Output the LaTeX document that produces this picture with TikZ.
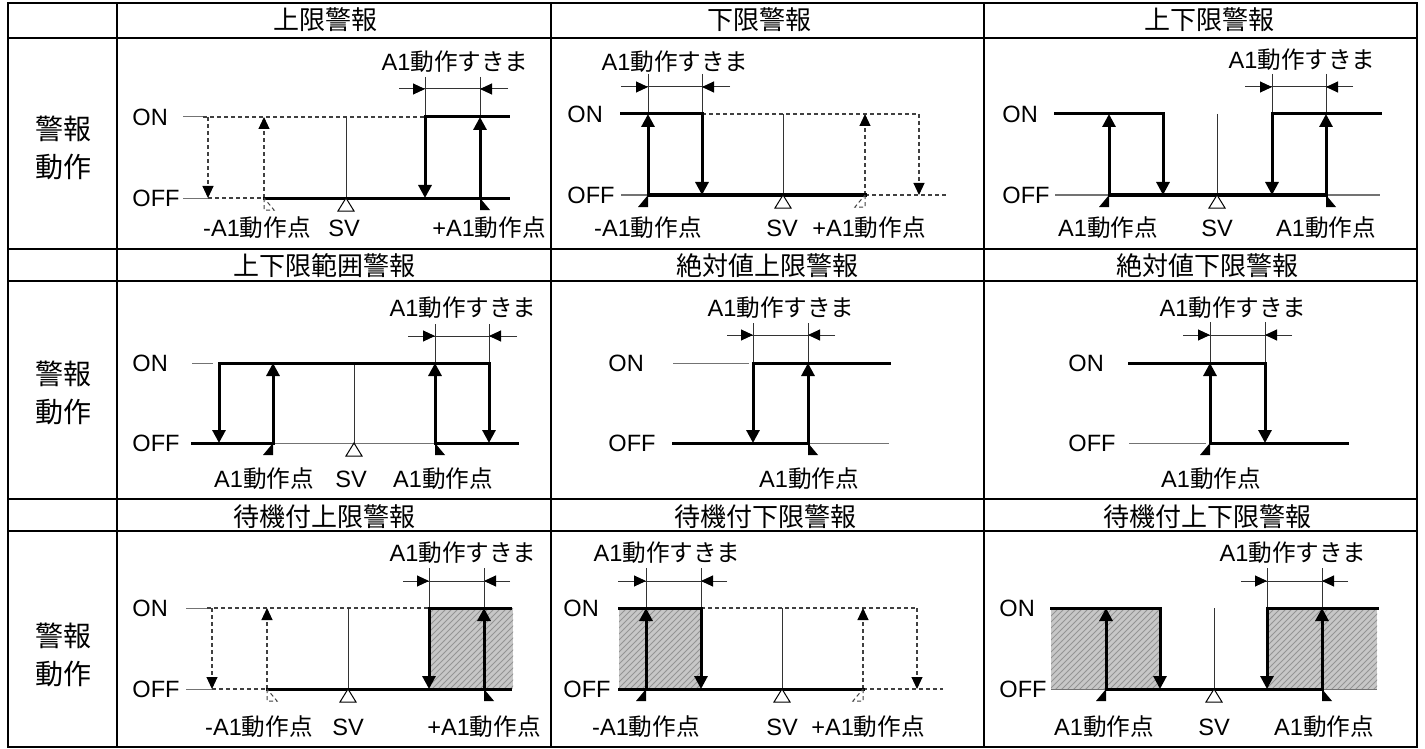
\documentclass[tikz,border=0pt]{standalone}
\usepackage{fontspec}
\setmainfont{Liberation Sans}
\newfontfamily\jp{Noto Sans CJK JP}
\usetikzlibrary{arrows.meta,patterns}
\tikzset{
  grid/.style={line width=1pt, black},
  sig/.style={line width=1.5pt, line cap=rect, black},
  baseln/.style={line width=0.5pt, black!55},
  thinln/.style={line width=0.5pt, black!80},
  dsh/.style={line width=0.55pt, black!75, dash pattern=on 2pt off 1.5pt},
  bigarr/.style={-{Triangle[length=6.5pt,width=6.5pt,color=black]}},
  smarr/.style={-{Triangle[length=6pt,width=5.5pt,color=black]}},
  hatch/.style={fill=black!22, postaction={pattern=north east lines, pattern color=black!42}},
  lab/.style={font=\fontsize{11.8}{13}\selectfont, inner sep=0pt},
  ttl/.style={font=\fontsize{13}{15}\selectfont\jp, inner sep=0pt},
  side/.style={font=\fontsize{14}{19}\selectfont\jp, align=center, inner sep=0pt},
}
\newcommand{\MarkR}[3][fill=black]{\path[#1] (#2,#3) -- (#2,#3+12) -- (#2+10,#3+12) -- cycle;}
\newcommand{\MarkL}[3][fill=black]{\path[#1] (#2,#3) -- (#2,#3+12) -- (#2-10,#3+12) -- cycle;}
\newcommand{\SVtri}[2]{\draw[line width=0.5pt, fill=white] (#1,#2) -- (#1-8,#2+13) -- (#1+8,#2+13) -- cycle;}
\newcommand{\DimGap}[5]{%
  \draw[thinln] (#1,#5) -- (#4,#5);
  \draw[thinln, smarr] (#1,#5) -- (#2,#5);
  \draw[thinln, smarr] (#4,#5) -- (#3,#5);}
\begin{document}
\begin{tikzpicture}[x=0.5pt,y=-0.5pt]
\useasboundingbox (0,0) rectangle (1425,749);
\fill[white] (0,0) rectangle (1425,749);

% ---------- hatched areas ----------
\path[hatch] (429,608) rectangle (513,689);
\path[hatch] (619,608) rectangle (701,689);
\path[hatch] (1051,608) rectangle (1160,689);
\path[hatch] (1267,608) rectangle (1377,689);

% ---------- table grid ----------
\draw[grid] (8,3) rectangle (1417,747);
\draw[grid] (117,3) -- (117,747);
\draw[grid] (551,3) -- (551,747);
\draw[grid] (984,3) -- (984,747);
\foreach \yy in {38,249,281,499,531} \draw[grid] (8,\yy) -- (1417,\yy);

% ---------- headers ----------
\node[ttl] (h1) at (325,20) {上限警報};
\node[ttl] (h2) at (759,20) {下限警報};
\node[ttl] (h3) at (1209,20) {上下限警報};
\node[ttl] (h4) at (324,266) {上下限範囲警報};
\node[ttl] (h5) at (767,266) {絶対値上限警報};
\node[ttl] (h6) at (1207,266) {絶対値下限警報};
\node[ttl] (h7) at (324,517) {待機付上限警報};
\node[ttl] (h8) at (765,517) {待機付下限警報};
\node[ttl] (h9) at (1207,517) {待機付上下限警報};
\node[side] (s1) at (63,148) {警報\\動作};
\node[side] (s2) at (63,393) {警報\\動作};
\node[side] (s3) at (63,655) {警報\\動作};

% ================= Panel 1: 上限警報 =================
\draw[baseln] (183,117) -- (203,117);
\draw[baseln] (183,198) -- (208,198);
\draw[dsh] (203,117) -- (425,117);
\draw[dsh] (208,198) -- (264,198);
\draw[dsh, smarr] (208,117) -- (208,198);
\draw[dsh, smarr] (264,198) -- (264,117);
\draw[thinln] (346,117) -- (346,198);
\draw[thinln] (425,77) -- (425,117);
\draw[thinln] (480,77) -- (480,117);
\DimGap{399}{425}{480}{508}{89}
\draw[sig] (264,198) -- (508,198);
\draw[sig, bigarr] (508,117) -- (425,117) -- (425,198);
\draw[sig, bigarr] (480,198) -- (480,117);
\MarkR[draw, dsh, line width=0.5pt]{264}{198}
\MarkR{480}{198}
\SVtri{346}{198}
\node[lab, anchor=west] (on1) at (132,117) {ON};
\node[lab, anchor=west] (off1) at (132,198) {OFF};
\node[lab] (g1) at (455,62) {A1{\jp 動作すきま}};
\node[lab] (m1) at (257,228) {-A1{\jp 動作点}};
\node[lab] (sv1) at (344,228) {SV};
\node[lab] (p1) at (489,228) {+A1{\jp 動作点}};

% ================= Panel 2: 下限警報 =================
\draw[baseln] (621,195) -- (648,195);
\draw[dsh] (702,114) -- (919,114);
\draw[dsh, smarr] (919,114) -- (919,195);
\draw[dsh] (865,195) -- (947,195);
\draw[dsh, smarr] (865,195) -- (865,114);
\draw[thinln] (783,114) -- (783,195);
\draw[thinln] (648,74) -- (648,114);
\draw[thinln] (702,74) -- (702,114);
\DimGap{621}{648}{702}{730}{87}
\draw[sig] (648,195) -- (865,195);
\draw[sig, bigarr] (621,114) -- (702,114) -- (702,195);
\draw[sig, bigarr] (648,195) -- (648,114);
\MarkL{648}{195}
\MarkL[draw, dsh, line width=0.5pt]{865}{195}
\SVtri{783}{195}
\node[lab, anchor=west] (on2) at (567,114) {ON};
\node[lab, anchor=west] (off2) at (567,195) {OFF};
\node[lab] (g2) at (675,62) {A1{\jp 動作すきま}};
\node[lab] (m2) at (648,228) {-A1{\jp 動作点}};
\node[lab] (sv2) at (782,228) {SV};
\node[lab] (p2) at (869,228) {+A1{\jp 動作点}};

% ================= Panel 3: 上下限警報 =================
\draw[baseln] (1055,195) -- (1109,195);
\draw[baseln] (1326,195) -- (1380,195);
\draw[thinln] (1217,114) -- (1217,195);
\draw[thinln] (1272,74) -- (1272,114);
\draw[thinln] (1326,74) -- (1326,114);
\DimGap{1245}{1272}{1326}{1353}{87}
\draw[sig] (1109,195) -- (1326,195);
\draw[sig, bigarr] (1055,114) -- (1163,114) -- (1163,195);
\draw[sig, bigarr] (1380,114) -- (1272,114) -- (1272,195);
\draw[sig, bigarr] (1109,195) -- (1109,114);
\draw[sig, bigarr] (1326,195) -- (1326,114);
\MarkL{1109}{195}
\MarkR{1326}{195}
\SVtri{1217}{195}
\node[lab, anchor=west] (on3) at (1002,114) {ON};
\node[lab, anchor=west] (off3) at (1002,195) {OFF};
\node[lab] (g3) at (1302,60) {A1{\jp 動作すきま}};
\node[lab] (m3) at (1108,228) {A1{\jp 動作点}};
\node[lab] (sv3) at (1217,228) {SV};
\node[lab] (p3) at (1326,228) {A1{\jp 動作点}};

% ================= Panel 4: 上下限範囲警報 =================
\draw[baseln] (192,363) -- (213,363);
\draw[baseln] (273,443) -- (435,443);
\draw[thinln] (354,363) -- (354,443);
\draw[thinln] (435,324) -- (435,363);
\draw[thinln] (489,324) -- (489,363);
\DimGap{408}{435}{489}{517}{336}
\draw[sig] (192,443) -- (273,443);
\draw[sig] (435,443) -- (517,443);
\draw[sig, bigarr] (219,363) -- (489,363) -- (489,443);
\draw[sig, bigarr] (219,363) -- (219,443);
\draw[sig, bigarr] (273,443) -- (273,363);
\draw[sig, bigarr] (435,443) -- (435,363);
\MarkL{273}{443}
\MarkR{435}{443}
\SVtri{354}{443}
\node[lab, anchor=west] (on4) at (132,363) {ON};
\node[lab, anchor=west] (off4) at (132,443) {OFF};
\node[lab] (g4) at (463,308) {A1{\jp 動作すきま}};
\node[lab] (m4) at (264,479) {A1{\jp 動作点}};
\node[lab] (sv4) at (351,479) {SV};
\node[lab] (p4) at (443,479) {A1{\jp 動作点}};

% ================= Panel 5: 絶対値上限警報 =================
\draw[baseln] (673,363) -- (749,363);
\draw[baseln] (808,443) -- (889,443);
\draw[thinln] (753,323) -- (753,363);
\draw[thinln] (808,323) -- (808,363);
\DimGap{727}{753}{808}{835}{335}
\draw[sig] (673,443) -- (808,443);
\draw[sig, bigarr] (889,363) -- (753,363) -- (753,443);
\draw[sig, bigarr] (808,443) -- (808,363);
\MarkR{808}{443}
\node[lab, anchor=west] (on5) at (608,363) {ON};
\node[lab, anchor=west] (off5) at (608,443) {OFF};
\node[lab] (g5) at (781,308) {A1{\jp 動作すきま}};
\node[lab] (p5) at (809,479) {A1{\jp 動作点}};

% ================= Panel 6: 絶対値下限警報 =================
\draw[baseln] (1129,443) -- (1206,443);
\draw[thinln] (1210,322) -- (1210,363);
\draw[thinln] (1265,322) -- (1265,363);
\DimGap{1183}{1210}{1265}{1292}{335}
\draw[sig] (1210,443) -- (1347,443);
\draw[sig, bigarr] (1129,363) -- (1265,363) -- (1265,443);
\draw[sig, bigarr] (1210,443) -- (1210,363);
\MarkL{1210}{443}
\node[lab, anchor=west] (on6) at (1068,363) {ON};
\node[lab, anchor=west] (off6) at (1068,443) {OFF};
\node[lab] (g6) at (1233,308) {A1{\jp 動作すきま}};
\node[lab] (p6) at (1211,479) {A1{\jp 動作点}};

% ================= Panel 7: 待機付上限警報 =================
\draw[baseln] (186,608) -- (207,608);
\draw[baseln] (186,689) -- (212,689);
\draw[dsh] (207,608) -- (429,608);
\draw[dsh] (212,689) -- (267,689);
\draw[dsh, smarr] (212,608) -- (212,689);
\draw[dsh, smarr] (267,689) -- (267,608);
\draw[thinln] (348,608) -- (348,689);
\draw[thinln] (429,568) -- (429,608);
\draw[thinln] (484,568) -- (484,608);
\DimGap{403}{429}{484}{510}{581}
\draw[sig] (267,689) -- (510,689);
\draw[sig, bigarr] (510,608) -- (429,608) -- (429,689);
\draw[sig, bigarr] (484,689) -- (484,608);
\MarkR[draw, dsh, line width=0.5pt]{267}{689}
\MarkR{484}{689}
\SVtri{348}{689}
\node[lab, anchor=west] (on7) at (132,608) {ON};
\node[lab, anchor=west] (off7) at (132,689) {OFF};
\node[lab] (g7) at (463,553) {A1{\jp 動作すきま}};
\node[lab] (m7) at (259,727) {-A1{\jp 動作点}};
\node[lab] (sv7) at (348,727) {SV};
\node[lab] (p7) at (484,727) {+A1{\jp 動作点}};

% ================= Panel 8: 待機付下限警報 =================
\draw[dsh] (701,608) -- (917,608);
\draw[dsh, smarr] (917,608) -- (917,689);
\draw[dsh] (863,689) -- (943,689);
\draw[dsh, smarr] (863,689) -- (863,608);
\draw[thinln] (782,608) -- (782,689);
\draw[thinln] (646,568) -- (646,608);
\draw[thinln] (701,568) -- (701,608);
\DimGap{618}{646}{701}{727}{581}
\draw[sig] (619,689) -- (863,689);
\draw[sig, bigarr] (619,608) -- (701,608) -- (701,689);
\draw[sig, bigarr] (646,689) -- (646,608);
\MarkL{646}{689}
\MarkL[draw, dsh, line width=0.5pt]{863}{689}
\SVtri{782}{689}
\node[lab, anchor=west] (on8) at (563,608) {ON};
\node[lab, anchor=west] (off8) at (563,689) {OFF};
\node[lab] (g8) at (667,553) {A1{\jp 動作すきま}};
\node[lab] (m8) at (646,727) {-A1{\jp 動作点}};
\node[lab] (sv8) at (782,727) {SV};
\node[lab] (p8) at (868,727) {+A1{\jp 動作点}};

% ================= Panel 9: 待機付上下限警報 =================
\draw[baseln] (1051,689) -- (1106,689);
\draw[baseln] (1322,689) -- (1377,689);
\draw[thinln] (1214,608) -- (1214,689);
\draw[thinln] (1267,568) -- (1267,608);
\draw[thinln] (1322,568) -- (1322,608);
\DimGap{1241}{1267}{1322}{1348}{581}
\draw[sig] (1106,689) -- (1322,689);
\draw[sig, bigarr] (1051,608) -- (1160,608) -- (1160,689);
\draw[sig, bigarr] (1377,608) -- (1267,608) -- (1267,689);
\draw[sig, bigarr] (1106,689) -- (1106,608);
\draw[sig, bigarr] (1322,689) -- (1322,608);
\MarkL{1106}{689}
\MarkR{1322}{689}
\SVtri{1214}{689}
\node[lab, anchor=west] (on9) at (999,608) {ON};
\node[lab, anchor=west] (off9) at (999,689) {OFF};
\node[lab] (g9) at (1293,553) {A1{\jp 動作すきま}};
\node[lab] (m9) at (1104,727) {A1{\jp 動作点}};
\node[lab] (sv9) at (1214,727) {SV};
\node[lab] (p9) at (1324,727) {A1{\jp 動作点}};
\end{tikzpicture}
\end{document}
